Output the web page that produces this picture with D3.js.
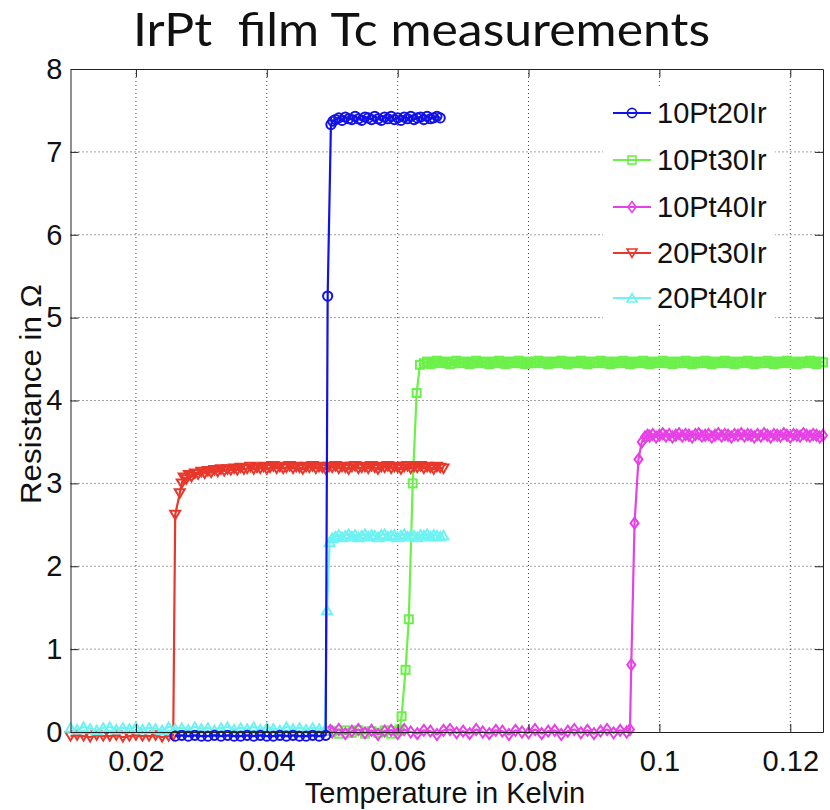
<!DOCTYPE html>
<html><head><meta charset="utf-8">
<script src="https://cdn.jsdelivr.net/npm/d3@7"></script>
<style>body{margin:0;background:#fff}</style>
</head><body>
<svg id="chart" width="830" height="810"></svg>
<script>
// ---------------- data ----------------
const titleText = "IrPt  film Tc measurements";
const xLabel = "Temperature in Kelvin";
const yLabel = "Resistance in \u03A9";
const seriesNames = ["10Pt20Ir", "10Pt30Ir", "10Pt40Ir", "20Pt30Ir", "20Pt40Ir"];
const xTicks = [0.02, 0.04, 0.06, 0.08, 0.1, 0.12];
const yTicks = [0, 1, 2, 3, 4, 5, 6, 7, 8];
const xDomain = [0.01, 0.125];
const yDomain = [0, 8];

// [temperature K, resistance ohm]
const data10Pt20Ir = [
 [0.026,-0.05],[0.027,-0.04],[0.028,-0.05],[0.029,-0.04],[0.030,-0.05],[0.031,-0.05],[0.032,-0.04],[0.033,-0.05],
 [0.034,-0.04],[0.035,-0.05],[0.036,-0.05],[0.037,-0.04],[0.038,-0.05],[0.039,-0.04],[0.040,-0.05],[0.041,-0.05],
 [0.042,-0.04],[0.043,-0.05],[0.044,-0.04],[0.045,-0.05],[0.046,-0.05],[0.047,-0.04],[0.048,-0.05],[0.049,-0.04],
 [0.0493,5.26],[0.0498,7.33],
 [0.0501,7.37],[0.0505,7.39],[0.0510,7.41],[0.0515,7.38],[0.0520,7.42],[0.0525,7.40],[0.0530,7.39],[0.0535,7.43],
 [0.0540,7.40],[0.0545,7.38],[0.0550,7.42],[0.0555,7.41],[0.0560,7.39],[0.0565,7.43],[0.0570,7.40],[0.0575,7.38],
 [0.0580,7.42],[0.0585,7.40],[0.0590,7.43],[0.0595,7.39],[0.0600,7.41],[0.0605,7.38],[0.0610,7.42],[0.0615,7.40],
 [0.0620,7.43],[0.0625,7.39],[0.0630,7.41],[0.0635,7.42],[0.0640,7.39],[0.0645,7.43],[0.0650,7.40],[0.0655,7.41],
 [0.0660,7.43],[0.0665,7.41]
];
const data10Pt30Ir = [
 [0.0500,0.01],[0.0510,-0.02],[0.0520,0.02],[0.0530,-0.01],[0.0540,0.02],[0.0550,-0.02],[0.0560,0.01],[0.0570,-0.01],
 [0.0580,0.02],[0.0590,-0.02],[0.0600,0.01],[0.0603,0.03],
 [0.0606,0.19],[0.0612,0.75],[0.0617,1.36],[0.0623,3.00],[0.0629,4.09],[0.0634,4.43],
 [0.0640,4.45],[0.0645,4.47],[0.0650,4.44],[0.0655,4.46],[0.0660,4.48],[0.0665,4.45],[0.0670,4.47],[0.0675,4.46],
 [0.0680,4.44],[0.0685,4.47],[0.0690,4.48],[0.0695,4.45],[0.0700,4.46],[0.0705,4.47],[0.0710,4.44],[0.0715,4.46],
 [0.0720,4.48],[0.0725,4.45],[0.0730,4.47],[0.0735,4.46],[0.0740,4.44],[0.0745,4.47],[0.0750,4.45],[0.0755,4.48],
 [0.0760,4.46],[0.0765,4.44],[0.0770,4.47],[0.0775,4.46],[0.0780,4.45],[0.0785,4.48],[0.0790,4.46],[0.0795,4.44],
 [0.0800,4.47],[0.0805,4.45],[0.0810,4.46],[0.0815,4.48],[0.0820,4.45],[0.0825,4.47],[0.0830,4.44],[0.0835,4.46],
 [0.0840,4.47],[0.0845,4.45],[0.0850,4.48],[0.0855,4.46],[0.0860,4.44],[0.0865,4.47],[0.0870,4.46],[0.0875,4.45],
 [0.0880,4.48],[0.0885,4.46],[0.0890,4.44],[0.0895,4.47],[0.0900,4.45],[0.0905,4.46],[0.0910,4.48],[0.0915,4.45],
 [0.0920,4.47],[0.0925,4.44],[0.0930,4.46],[0.0935,4.47],[0.0940,4.45],[0.0945,4.48],[0.0950,4.46],[0.0955,4.44],
 [0.0960,4.47],[0.0965,4.46],[0.0970,4.45],[0.0975,4.48],[0.0980,4.46],[0.0985,4.44],[0.0990,4.47],[0.0995,4.45],
 [0.1000,4.46],[0.1005,4.48],[0.1010,4.45],[0.1015,4.47],[0.1020,4.44],[0.1025,4.46],[0.1030,4.47],[0.1035,4.45],
 [0.1040,4.48],[0.1045,4.46],[0.1050,4.44],[0.1055,4.47],[0.1060,4.46],[0.1065,4.45],[0.1070,4.48],[0.1075,4.46],
 [0.1080,4.44],[0.1085,4.47],[0.1090,4.45],[0.1095,4.46],[0.1100,4.48],[0.1105,4.45],[0.1110,4.47],[0.1115,4.44],
 [0.1120,4.46],[0.1125,4.47],[0.1130,4.45],[0.1135,4.48],[0.1140,4.46],[0.1145,4.44],[0.1150,4.47],[0.1155,4.46],
 [0.1160,4.45],[0.1165,4.48],[0.1170,4.46],[0.1175,4.44],[0.1180,4.47],[0.1185,4.45],[0.1190,4.46],[0.1195,4.48],
 [0.1200,4.45],[0.1205,4.47],[0.1210,4.44],[0.1215,4.46],[0.1220,4.47],[0.1225,4.45],[0.1230,4.48],[0.1235,4.46],
 [0.1240,4.44],[0.1245,4.47],[0.1250,4.46]
];
const data10Pt40Ir = [
 [0.0497,0.02],[0.050,0.00],[0.051,0.03],[0.052,-0.02],[0.053,0.01],[0.054,0.03],[0.055,-0.01],[0.056,0.02],
 [0.057,-0.03],[0.058,0.01],[0.059,0.02],[0.060,-0.02],[0.061,0.03],[0.062,0.00],[0.063,-0.02],[0.064,0.02],
 [0.065,0.01],[0.066,-0.03],[0.067,0.02],[0.068,0.03],[0.069,-0.01],[0.070,0.01],[0.071,-0.02],[0.072,0.03],
 [0.073,0.00],[0.074,-0.02],[0.075,0.02],[0.076,0.01],[0.077,-0.03],[0.078,0.02],[0.079,0.00],[0.080,-0.01],
 [0.081,0.03],[0.082,-0.02],[0.083,0.01],[0.084,0.02],[0.085,-0.03],[0.086,0.01],[0.087,0.03],[0.088,-0.01],
 [0.089,0.02],[0.090,-0.02],[0.091,0.01],[0.092,0.03],[0.093,-0.01],[0.094,0.02],[0.095,0.00],[0.0955,0.03],
 [0.0957,0.81],[0.0962,2.52],[0.0968,3.29],[0.0973,3.50],[0.0978,3.56],[0.0982,3.58],
 [0.0985,3.57],[0.0990,3.59],[0.0995,3.56],[0.1000,3.58],[0.1005,3.60],[0.1010,3.57],[0.1015,3.59],[0.1020,3.56],
 [0.1025,3.58],[0.1030,3.60],[0.1035,3.57],[0.1040,3.59],[0.1045,3.58],[0.1050,3.56],[0.1055,3.59],[0.1060,3.60],
 [0.1065,3.57],[0.1070,3.58],[0.1075,3.59],[0.1080,3.56],[0.1085,3.58],[0.1090,3.60],[0.1095,3.57],[0.1100,3.59],
 [0.1105,3.58],[0.1110,3.56],[0.1115,3.59],[0.1120,3.58],[0.1125,3.60],[0.1130,3.57],[0.1135,3.59],[0.1140,3.58],
 [0.1145,3.56],[0.1150,3.59],[0.1155,3.57],[0.1160,3.60],[0.1165,3.58],[0.1170,3.56],[0.1175,3.59],[0.1180,3.58],
 [0.1185,3.57],[0.1190,3.60],[0.1195,3.58],[0.1200,3.56],[0.1205,3.59],[0.1210,3.58],[0.1215,3.57],[0.1220,3.60],
 [0.1225,3.58],[0.1230,3.57],[0.1235,3.59],[0.1240,3.58],[0.1245,3.56],[0.1250,3.58]
];
const data20Pt30Ir = [
 [0.010,-0.05],[0.011,-0.04],[0.012,-0.05],[0.013,-0.06],[0.014,-0.04],[0.015,-0.05],[0.016,-0.05],[0.017,-0.04],
 [0.018,-0.06],[0.019,-0.05],[0.020,-0.04],[0.021,-0.05],[0.022,-0.05],[0.023,-0.04],[0.024,-0.06],[0.025,-0.05],
 [0.0257,-0.04],
 [0.0260,2.62],[0.0267,2.88],[0.0270,3.00],[0.0273,3.07],[0.0277,3.05],[0.0281,3.10],[0.0285,3.08],[0.0290,3.12],
 [0.0295,3.11],
 [0.0300,3.14],[0.0305,3.12],[0.0310,3.15],[0.0315,3.13],[0.0320,3.16],[0.0325,3.14],[0.0330,3.17],[0.0335,3.15],
 [0.0340,3.17],[0.0345,3.16],[0.0350,3.18],[0.0355,3.16],[0.0360,3.19],[0.0365,3.17],[0.0370,3.18],[0.0375,3.20],
 [0.0380,3.17],[0.0385,3.19],[0.0390,3.18],[0.0395,3.20],[0.0400,3.17],[0.0405,3.19],[0.0410,3.21],[0.0415,3.18],
 [0.0420,3.20],[0.0425,3.18],[0.0430,3.19],[0.0435,3.21],[0.0440,3.18],[0.0445,3.20],[0.0450,3.19],[0.0455,3.17],
 [0.0460,3.20],[0.0465,3.19],[0.0470,3.21],[0.0475,3.18],[0.0480,3.20],[0.0485,3.19],[0.0490,3.17],[0.0495,3.20],
 [0.0500,3.19],[0.0505,3.21],[0.0510,3.18],[0.0515,3.20],[0.0520,3.19],[0.0525,3.17],[0.0530,3.20],[0.0535,3.21],
 [0.0540,3.18],[0.0545,3.19],[0.0550,3.20],[0.0555,3.18],[0.0560,3.21],[0.0565,3.19],[0.0570,3.17],[0.0575,3.20],
 [0.0580,3.19],[0.0585,3.21],[0.0590,3.18],[0.0595,3.20],[0.0600,3.19],[0.0605,3.17],[0.0610,3.20],[0.0615,3.21],
 [0.0620,3.18],[0.0625,3.20],[0.0630,3.19],[0.0635,3.21],[0.0640,3.18],[0.0645,3.20],[0.0650,3.19],[0.0655,3.17],
 [0.0660,3.20],[0.0665,3.19],[0.0670,3.18]
];
const data20Pt40Ir = [
 [0.010,0.05],[0.011,0.03],[0.012,0.06],[0.013,0.04],[0.014,0.02],[0.015,0.05],[0.016,0.06],[0.017,0.03],
 [0.018,0.05],[0.019,0.04],[0.020,0.06],[0.021,0.03],[0.022,0.05],[0.023,0.04],[0.024,0.02],[0.025,0.06],
 [0.026,0.04],[0.027,0.05],[0.028,0.03],[0.029,0.06],[0.030,0.04],[0.031,0.05],[0.032,0.02],[0.033,0.05],
 [0.034,0.06],[0.035,0.03],[0.036,0.05],[0.037,0.04],[0.038,0.06],[0.039,0.03],[0.040,0.05],[0.041,0.04],
 [0.042,0.02],[0.043,0.06],[0.044,0.04],[0.045,0.05],[0.046,0.03],[0.047,0.05],[0.048,0.04],[0.0489,0.03],
 [0.0492,1.47],[0.0496,2.29],[0.0500,2.34],
 [0.0505,2.36],[0.0510,2.38],[0.0515,2.35],[0.0520,2.37],[0.0525,2.39],[0.0530,2.36],[0.0535,2.38],[0.0540,2.35],
 [0.0545,2.37],[0.0550,2.39],[0.0555,2.36],[0.0560,2.38],[0.0565,2.37],[0.0570,2.35],[0.0575,2.38],[0.0580,2.39],
 [0.0585,2.36],[0.0590,2.37],[0.0595,2.38],[0.0600,2.35],[0.0605,2.37],[0.0610,2.39],[0.0615,2.36],[0.0620,2.38],
 [0.0625,2.37],[0.0630,2.35],[0.0635,2.38],[0.0640,2.37],[0.0645,2.39],[0.0650,2.36],[0.0655,2.38],[0.0660,2.37],
 [0.0665,2.36],[0.0670,2.37]
];
const seriesData = [data10Pt20Ir, data10Pt30Ir, data10Pt40Ir, data20Pt30Ir, data20Pt40Ir];

// ---------------- styles ----------------
const seriesColors = ["#1212e6", "#6cf04a", "#e640e6", "#e8372b", "#6ef2f2"];
const seriesMarkers = ["o", "s", "d", "v", "^"];
const drawOrder = [1, 2, 3, 4, 0];
const FONT = "'Liberation Sans', Arial, Helvetica, sans-serif";
const FS = 29;

(function () {
const svg = d3.select("#chart");
const pL = 70.5, pR = 823, pT = 69, pB = 732;
const x = d3.scaleLinear().domain(xDomain).range([pL, pR]);
const y = d3.scaleLinear().domain(yDomain).range([pB, pT]);

svg.append("rect").attr("width", 830).attr("height", 810).attr("fill", "#fff");

// title
svg.append("text").attr("x", 421.5).attr("y", 46).attr("text-anchor", "middle")
  .attr("font-family", "Lato, 'Open Sans', sans-serif").attr("font-size", 47)
  .attr("textLength", 577).attr("lengthAdjust", "spacingAndGlyphs")
  .style("white-space", "pre").attr("fill", "#111").text(titleText);

// grid
const grid = svg.append("g").attr("stroke", "#444").attr("stroke-width", 1)
  .attr("stroke-dasharray", "1,3");
grid.selectAll(".vg").data(xTicks).join("line")
  .attr("x1", d => x(d)).attr("x2", d => x(d)).attr("y1", pT).attr("y2", pB);
grid.selectAll(".hg").data(yTicks.filter(d => d > yDomain[0] && d < yDomain[1])).join("line")
  .attr("x1", pL).attr("x2", pR).attr("y1", d => y(d)).attr("y2", d => y(d));

// legend background (covers grid)
svg.append("rect").attr("x", 603).attr("y", 88).attr("width", 172).attr("height", 234).attr("fill", "#fff");

function drawMarker(g, type, color, sw) {
  let m;
  if (type === "o") m = g.append("circle").attr("r", 4.6);
  else if (type === "s") m = g.append("rect").attr("x", -4).attr("y", -4).attr("width", 8).attr("height", 8);
  else if (type === "d") m = g.append("path").attr("d", "M0,-5.5L4,0L0,5.5L-4,0Z");
  else if (type === "v") m = g.append("path").attr("d", "M-5,-4L5,-4L0,4.5Z");
  else m = g.append("path").attr("d", "M0,-4.5L5,4L-5,4Z");
  m.attr("fill", "none").attr("stroke", color).attr("stroke-width", sw);
}

const line = d3.line().x(d => x(d[0])).y(d => y(d[1]));
const plot = svg.append("g");
drawOrder.forEach(i => {
  const g = plot.append("g");
  g.append("path").datum(seriesData[i]).attr("d", line)
    .attr("fill", "none").attr("stroke", seriesColors[i]).attr("stroke-width", 2.2)
    .attr("stroke-linejoin", "round");
  g.selectAll("g.mk").data(seriesData[i]).join("g").attr("class", "mk")
    .attr("transform", d => `translate(${x(d[0])},${y(d[1])})`)
    .each(function () { drawMarker(d3.select(this), seriesMarkers[i], seriesColors[i], 2); });
});

// axes
function styleAxis(g) {
  g.attr("font-family", FONT).attr("font-size", FS);
  g.selectAll("path,line").attr("stroke", "#222");
  g.selectAll("text").attr("fill", "#111");
}
svg.append("g").attr("transform", `translate(0,${pB})`)
  .call(d3.axisBottom(x).tickValues(xTicks).tickSize(-8).tickSizeOuter(0).tickPadding(18).tickFormat(d => String(d)))
  .call(styleAxis);
svg.append("g").attr("transform", `translate(0,${pT})`)
  .call(d3.axisTop(x).tickValues(xTicks).tickSize(-8).tickSizeOuter(0).tickFormat(""))
  .call(styleAxis);
svg.append("g").attr("transform", `translate(${pL},0)`)
  .call(d3.axisLeft(y).tickValues(yTicks).tickSize(-8).tickSizeOuter(0).tickPadding(8).tickFormat(d => String(d)))
  .call(styleAxis);
svg.append("g").attr("transform", `translate(${pR},0)`)
  .call(d3.axisRight(y).tickValues(yTicks).tickSize(-8).tickSizeOuter(0).tickFormat(""))
  .call(styleAxis);

// axis labels
svg.append("text").attr("x", 445).attr("y", 803).attr("text-anchor", "middle")
  .attr("font-family", FONT).attr("font-size", FS).attr("fill", "#111").text(xLabel);
svg.append("text").attr("transform", `translate(41,394) rotate(-90)`)
  .attr("text-anchor", "middle").attr("font-family", FONT).attr("font-size", FS)
  .attr("textLength", 220).attr("lengthAdjust", "spacingAndGlyphs")
  .attr("fill", "#111").text(yLabel);

// legend
const legRows = [113, 160, 207, 253, 298];
seriesNames.forEach((name, i) => {
  const g = svg.append("g").attr("transform", `translate(0,${legRows[i]})`);
  g.append("line").attr("x1", 613).attr("x2", 651).attr("y1", 0).attr("y2", 0)
    .attr("stroke", seriesColors[i]).attr("stroke-width", 2);
  const mg = g.append("g").attr("transform", "translate(632,0)");
  drawMarker(mg, seriesMarkers[i], seriesColors[i], 1.6);
  g.append("text").attr("x", 657).attr("y", 0).attr("dy", "0.36em")
    .attr("font-family", FONT).attr("font-size", FS).attr("fill", "#111").text(name);
});
})();
</script>
</body></html>
